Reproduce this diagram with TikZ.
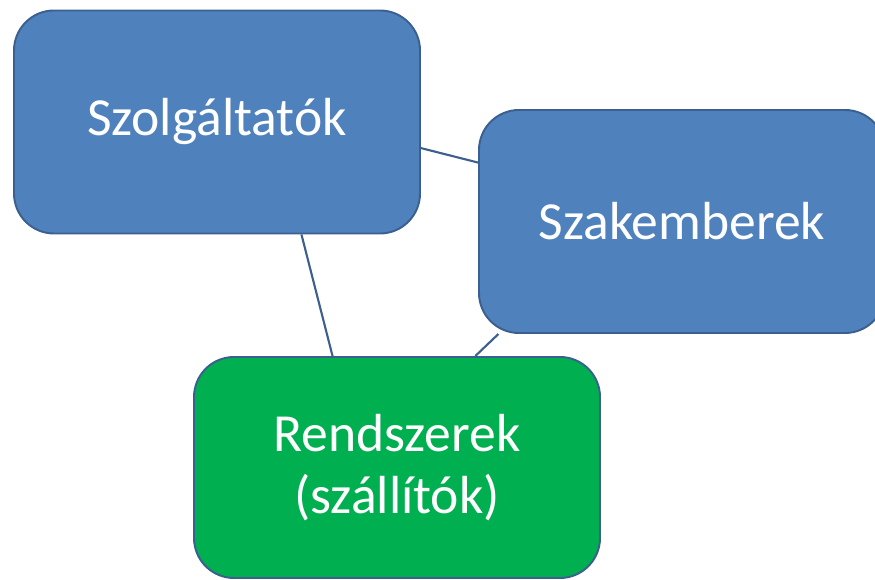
\documentclass[tikz,border=0pt]{standalone}
\usepackage{fontspec}
\setmainfont{Carlito}
\usetikzlibrary{calc,backgrounds}
\definecolor{boxblue}{HTML}{4F81BD}
\definecolor{boxedge}{HTML}{3B5F8E}
\definecolor{boxgreen}{HTML}{00B050}

\begin{document}
\begin{tikzpicture}[
  box/.style={rectangle, rounded corners=0.8cm, draw=boxedge, line width=1.1pt, fill=boxblue, minimum width=8.12cm, minimum height=4.46cm, text=white, align=center, font=\fontsize{30.5}{35}\selectfont},
  conn/.style={draw=boxedge, line width=1.2pt},
]
\clip (0,0) rectangle (17.5,11.58);

% Boxes
\node[box] (szolg) at (4.34,9.14) {Szolgáltatók};
\node[box] (szak) at (13.64,7.15) {Szakemberek};
\node[box, fill=boxgreen, minimum height=4.42cm] (rend) at (7.94,2.23) {Rendszerek\\(szállítók)};

% Connectors (behind the boxes)
\begin{scope}[on background layer]
\draw[conn] ($(szolg.north east)!0.616!(szolg.south east)$) -- ($(szak.north west)!0.238!(szak.south west)$);
\draw[conn] ($(szolg.south west)!0.707!(szolg.south east)$) -- ($(rend.north west)!0.342!(rend.north east)$);
\draw[conn] ($(szak.south west)!0.05!(szak.south east)$) -- ($(rend.north west)!0.692!(rend.north east)$);
\end{scope}

\end{tikzpicture}
\end{document}
